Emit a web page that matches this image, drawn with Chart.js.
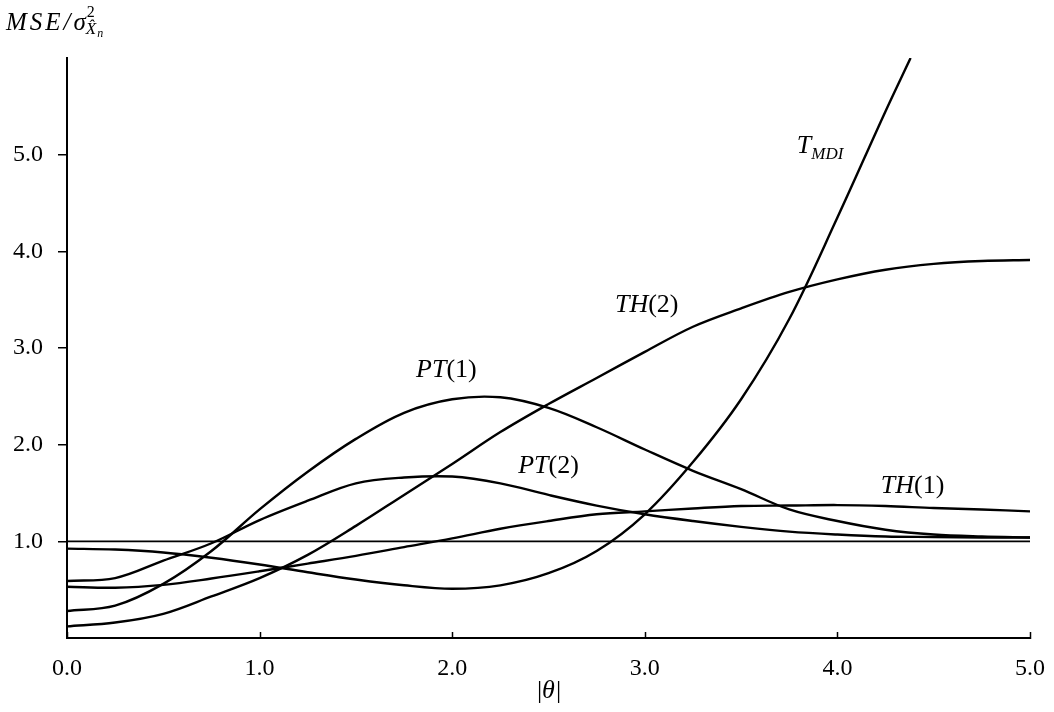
<!DOCTYPE html>
<html>
<head>
<meta charset="utf-8">
<script src="https://cdn.jsdelivr.net/npm/chart.js@4.4.1/dist/chart.umd.min.js"></script>
<style>
html, body { margin: 0; padding: 0; background: #fff; }
#wrap { width: 1054px; height: 712px; }
</style>
</head>
<body>
<div id="wrap"><canvas id="grafico-mse"></canvas></div>
<script>
// valores (|theta| de 0.25 em 0.25)
const theta = [0, 0.25, 0.5, 0.75, 1, 1.25, 1.5, 1.75, 2, 2.25, 2.5, 2.75, 3, 3.25, 3.5, 3.75, 4, 4.25, 4.5, 4.75, 5];
const thetaMdi = [0, 0.25, 0.5, 0.75, 1, 1.25, 1.5, 1.75, 2, 2.25, 2.5, 2.75, 3, 3.25, 3.5, 3.75, 4, 4.25, 4.38];

const tMdi = [0.925, 0.915, 0.885, 0.83, 0.76, 0.68, 0.605, 0.545, 0.51, 0.545, 0.67, 0.9, 1.28, 1.82, 2.47, 3.3, 4.35, 5.45, 6.0];
const pt1 = [0.28, 0.335, 0.56, 0.9, 1.33, 1.72, 2.06, 2.33, 2.47, 2.49, 2.38, 2.18, 1.95, 1.73, 1.54, 1.33, 1.21, 1.12, 1.07, 1.05, 1.04];
const pt2 = [0.59, 0.62, 0.8, 0.98, 1.22, 1.42, 1.6, 1.66, 1.67, 1.6, 1.48, 1.37, 1.28, 1.21, 1.15, 1.1, 1.07, 1.05, 1.045, 1.04, 1.04];
const th1 = [0.53, 0.52, 0.55, 0.615, 0.69, 0.77, 0.85, 0.94, 1.03, 1.13, 1.21, 1.28, 1.31, 1.34, 1.365, 1.37, 1.375, 1.365, 1.345, 1.33, 1.31];
const th2 = [0.12, 0.16, 0.25, 0.43, 0.62, 0.86, 1.16, 1.48, 1.8, 2.13, 2.42, 2.69, 2.96, 3.22, 3.41, 3.58, 3.71, 3.81, 3.87, 3.9, 3.91];
const refX = [0, 5];
const refY = [1, 1];

const xTicks = [0, 1, 2, 3, 4, 5];
const yTicks = [1, 2, 3, 4, 5];

const SERIF = '"Liberation Serif", "DejaVu Serif", serif';
const ITAL = 'italic 26px ' + SERIF;
const ROM = '26px ' + SERIF;
const SUB = 'italic 17px ' + SERIF;

// rótulos das curvas (posição em coordenadas dos dados, linha de base)
const curveLabels = [
    { x: 1.97, y: 2.70, parts: [{ t: 'PT', f: ITAL }, { t: '(1)', f: ROM }] },
    { x: 2.50, y: 1.71, parts: [{ t: 'PT', f: ITAL }, { t: '(2)', f: ROM }] },
    { x: 3.01, y: 3.37, parts: [{ t: 'TH', f: ITAL }, { t: '(2)', f: ROM }] },
    { x: 4.39, y: 1.50, parts: [{ t: 'TH', f: ITAL }, { t: '(1)', f: ROM }] },
    { x: 3.91, y: 5.02, parts: [{ t: 'T', f: ITAL }, { t: 'MDI', f: SUB, dy: 6 }] }
];

function pts(xs, ys) {
    return ys.map((y, i) => ({ x: xs[i], y: y }));
}

function drawParts(ctx, parts, cx, baseY) {
    let w = 0;
    parts.forEach(p => { ctx.font = p.f; w += ctx.measureText(p.t).width; });
    let x = cx - w / 2;
    parts.forEach(p => {
        ctx.font = p.f;
        ctx.fillText(p.t, x, baseY + (p.dy || 0));
        x += ctx.measureText(p.t).width;
    });
}

const textosPlugin = {
    id: 'textos',
    afterDraw(chart) {
        const ctx = chart.ctx;
        const xs = chart.scales.x, ys = chart.scales.y;
        const area = chart.chartArea;
        ctx.save();
        ctx.fillStyle = '#000';
        ctx.textBaseline = 'alphabetic';
        ctx.textAlign = 'left';

        // marcas do eixo x (para dentro)
        ctx.strokeStyle = '#000';
        ctx.lineWidth = 1.5;
        xTicks.forEach(v => {
            const px = Math.round(xs.getPixelForValue(v)) + 0.5;
            ctx.beginPath();
            ctx.moveTo(px, area.bottom - 6);
            ctx.lineTo(px, area.bottom + 1);
            ctx.stroke();
        });

        curveLabels.forEach(l => {
            drawParts(ctx, l.parts, xs.getPixelForValue(l.x), ys.getPixelForValue(l.y));
        });

        // título do eixo y
        ctx.font = 'italic 25px ' + SERIF;
        let x = 6;
        ['M', 'S', 'E', '/', 'σ'].forEach(c => {
            ctx.fillText(c, x, 30);
            x += ctx.measureText(c).width + 3;
        });
        ctx.font = '16px ' + SERIF;
        ctx.fillText('2', x - 2, 17);
        ctx.font = 'italic 17px ' + SERIF;
        ctx.fillText('X\u0302', x - 3, 34);
        const wx = ctx.measureText('X').width;
        ctx.font = 'italic 12px ' + SERIF;
        ctx.fillText('n', x - 2 + wx, 37);

        // título do eixo x
        ctx.font = ROM;
        const a = ctx.measureText('|').width;
        ctx.font = ITAL;
        const b = ctx.measureText('θ').width;
        let tx = xs.getPixelForValue(2.5) - (2 * a + b) / 2;
        ctx.font = ROM;
        ctx.fillText('|', tx, 698);
        ctx.font = ITAL;
        ctx.fillText('θ', tx + a, 698);
        ctx.font = ROM;
        ctx.fillText('|', tx + a + b + 1, 698);
        ctx.restore();
    }
};

const ctxMse = document.getElementById('grafico-mse').getContext('2d');
const mseChart = new Chart(ctxMse, {
    type: 'line',
    data: {
        datasets: [
            { label: 'ref', data: pts(refX, refY), borderWidth: 1.6, tension: 0 },
            { label: 'T_MDI', data: pts(thetaMdi, tMdi) },
            { label: 'PT(1)', data: pts(theta, pt1) },
            { label: 'PT(2)', data: pts(theta, pt2) },
            { label: 'TH(1)', data: pts(theta, th1) },
            { label: 'TH(2)', data: pts(theta, th2) }
        ]
    },
    options: {
        responsive: true,
        maintainAspectRatio: false,
        animation: false,
        layout: { padding: { top: 58, right: 24, left: 0, bottom: 0 } },
        elements: {
            point: { radius: 0 },
            line: { borderColor: '#000', borderWidth: 2.4, fill: false, tension: 0.35 }
        },
        plugins: {
            legend: { display: false },
            tooltip: { enabled: false }
        },
        scales: {
            x: {
                type: 'linear',
                min: 0,
                max: 5,
                afterBuildTicks: s => { s.ticks = xTicks.map(v => ({ value: v })); },
                afterFit: s => { s.height = 74; },
                grid: { display: false },
                border: { display: true, color: '#000', width: 2 },
                ticks: {
                    color: '#000',
                    font: { family: SERIF, size: 24 },
                    padding: 8,
                    maxRotation: 0,
                    autoSkip: false,
                    callback: v => Number(v).toFixed(1)
                }
            },
            y: {
                type: 'linear',
                min: 0,
                max: 6,
                afterBuildTicks: s => { s.ticks = yTicks.map(v => ({ value: v })); },
                afterFit: s => { s.width = 67; },
                grid: { drawOnChartArea: false, tickLength: 9, color: '#000', lineWidth: 1.5 },
                border: { display: true, color: '#000', width: 2 },
                ticks: {
                    color: '#000',
                    font: { family: SERIF, size: 24 },
                    padding: 15,
                    callback: v => Number(v).toFixed(1)
                }
            }
        }
    },
    plugins: [textosPlugin]
});
</script>
</body>
</html>
